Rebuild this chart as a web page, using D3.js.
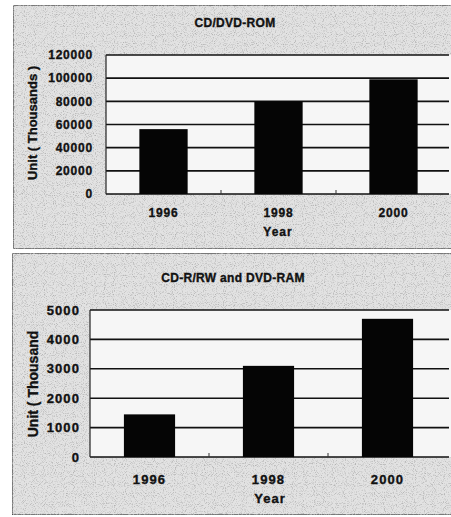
<!DOCTYPE html>
<html>
<head>
<meta charset="utf-8">
<script src="https://cdn.jsdelivr.net/npm/d3@7"></script>
<style>
  body { margin: 0; background: #fff; }
  svg text { font-family: "Liberation Sans", Arial, sans-serif; font-weight: bold; fill: #111; stroke: #111; stroke-width: 0.35; }
</style>
</head>
<body>
<div id="container"></div>
<script>
// data
const years = ['1996', '1998', '2000'];
const romValues = [56000, 80000, 99000];
const rwValues = [1450, 3100, 4700];
const romTicks = [0, 20000, 40000, 60000, 80000, 100000, 120000];
const rwTicks = [0, 1000, 2000, 3000, 4000, 5000];
const romTitle = 'CD/DVD-ROM';
const rwTitle = 'CD-R/RW and DVD-RAM';
const romYLabel = 'Unit ( Thousands )';
const rwYLabel = 'Unit ( Thousand';
const xLabel = 'Year';

const width = 451;
const height = 517;

const svg = d3.select('#container')
              .append('svg')
              .attr('width', width)
              .attr('height', height);

// grainy scan look: sparse grey speckles
const defs = svg.append('defs');
const grain = defs.append('filter').attr('id', 'grain').attr('x', 0).attr('y', 0).attr('width', 1).attr('height', 1);
grain.append('feTurbulence').attr('type', 'fractalNoise').attr('baseFrequency', 1.1).attr('numOctaves', 1).attr('seed', 7).attr('result', 'noise');
grain.append('feColorMatrix').attr('in', 'noise').attr('type', 'matrix')
     .attr('values', '0 0 0 0 0.45  0 0 0 0 0.45  0 0 0 0 0.45  0 0 0 -3.5 1.75')
     .attr('result', 'dots');
grain.append('feComposite').attr('in', 'dots').attr('in2', 'SourceGraphic').attr('operator', 'in').attr('result', 'dotsIn');
grain.append('feMerge').call(m => {
  m.append('feMergeNode').attr('in', 'SourceGraphic');
  m.append('feMergeNode').attr('in', 'dotsIn');
});

function drawChart(cfg) {
  const g = svg.append('g');

  // panel
  g.append('rect')
   .attr('x', cfg.panel[0]).attr('y', cfg.panel[1])
   .attr('width', cfg.panel[2]).attr('height', cfg.panel[3])
   .attr('fill', '#e2e2e2')
   .attr('stroke', '#333').attr('stroke-width', 1.2)
   .attr('filter', 'url(#grain)');

  const xScale = d3.scaleBand()
                   .domain(cfg.categories)
                   .range(cfg.xRange)
                   .paddingInner(cfg.padInner)
                   .paddingOuter(cfg.padInner / 2);

  const yScale = d3.scaleLinear()
                   .domain([0, d3.max(cfg.ticks)])
                   .range(cfg.yRange);

  // plot area
  g.append('rect')
   .attr('x', cfg.xRange[0]).attr('y', cfg.yRange[1])
   .attr('width', width - cfg.xRange[0]).attr('height', cfg.yRange[0] - cfg.yRange[1])
   .attr('fill', '#f6f6f6');

  // gridlines
  g.selectAll('.grid')
   .data(cfg.ticks)
   .enter()
   .append('line')
   .attr('x1', cfg.xRange[0]).attr('x2', width - 2)
   .attr('y1', d => yScale(d)).attr('y2', d => yScale(d))
   .attr('stroke', '#111').attr('stroke-width', 1.6);

  // y axis line
  g.append('line')
   .attr('x1', cfg.xRange[0]).attr('x2', cfg.xRange[0])
   .attr('y1', cfg.yRange[1]).attr('y2', cfg.yRange[0])
   .attr('stroke', '#222').attr('stroke-width', 1.2);

  // category boundary ticks
  const step = xScale.step();
  g.selectAll('.ctick')
   .data(cfg.categories.slice(1))
   .enter()
   .append('line')
   .attr('x1', d => xScale(d) - step * cfg.padInner / 2)
   .attr('x2', d => xScale(d) - step * cfg.padInner / 2)
   .attr('y1', cfg.yRange[0]).attr('y2', cfg.yRange[0] - 4)
   .attr('stroke', '#333').attr('stroke-width', 1);

  // bars
  g.selectAll('.bar')
   .data(cfg.values)
   .enter()
   .append('rect')
   .attr('x', (d, i) => xScale(cfg.categories[i]))
   .attr('y', d => yScale(d))
   .attr('width', xScale.bandwidth())
   .attr('height', d => cfg.yRange[0] - yScale(d))
   .attr('fill', '#050505');

  // y tick labels
  g.selectAll('.ylab')
   .data(cfg.ticks)
   .enter()
   .append('text')
   .attr('x', cfg.xRange[0] - cfg.labelGap)
   .attr('y', d => yScale(d))
   .attr('dy', '0.36em')
   .attr('text-anchor', 'end')
   .attr('font-size', cfg.fontSize)
   .attr('letter-spacing', cfg.spacing)
   .text(d => d);

  // x tick labels
  g.selectAll('.xlab')
   .data(cfg.categories)
   .enter()
   .append('text')
   .attr('x', d => xScale(d) + xScale.bandwidth() / 2)
   .attr('y', cfg.xLabelY)
   .attr('text-anchor', 'middle')
   .attr('font-size', cfg.fontSize)
   .attr('letter-spacing', cfg.spacing)
   .text(d => d);

  // axis titles
  g.append('text')
   .attr('x', cfg.yearPos[0]).attr('y', cfg.yearPos[1])
   .attr('text-anchor', 'middle')
   .attr('font-size', cfg.fontSize)
   .attr('letter-spacing', 1)
   .text(xLabel);

  g.append('text')
   .attr('transform', `translate(${cfg.yLabelPos[0]},${cfg.yLabelPos[1]}) rotate(-90)`)
   .attr('text-anchor', 'middle')
   .attr('font-size', cfg.yLabelSize)
   .text(cfg.yLabel);

  // chart title
  g.append('text')
   .attr('x', cfg.titlePos[0]).attr('y', cfg.titlePos[1])
   .attr('text-anchor', 'middle')
   .attr('font-size', 12)
   .attr('letter-spacing', 0.3)
   .text(cfg.title);
}

drawChart({
  panel: [13, 5, 445, 244],
  categories: years,
  values: romValues,
  ticks: romTicks,
  xRange: [106, 451],
  yRange: [194, 55],
  padInner: 0.58,
  labelGap: 13,
  fontSize: 12,
  spacing: 0.8,
  xLabelY: 217,
  yearPos: [278, 236],
  yLabelPos: [37, 123],
  yLabelSize: 13,
  yLabel: romYLabel,
  titlePos: [235, 27],
  title: romTitle
});

drawChart({
  panel: [12, 253, 446, 262],
  categories: years,
  values: rwValues,
  ticks: rwTicks,
  xRange: [90, 447],
  yRange: [457, 310],
  padInner: 0.57,
  labelGap: 10,
  fontSize: 13,
  spacing: 1.1,
  xLabelY: 484,
  yearPos: [270, 503],
  yLabelPos: [38, 384],
  yLabelSize: 14,
  yLabel: rwYLabel,
  titlePos: [233, 282],
  title: rwTitle
});
</script>
</body>
</html>
